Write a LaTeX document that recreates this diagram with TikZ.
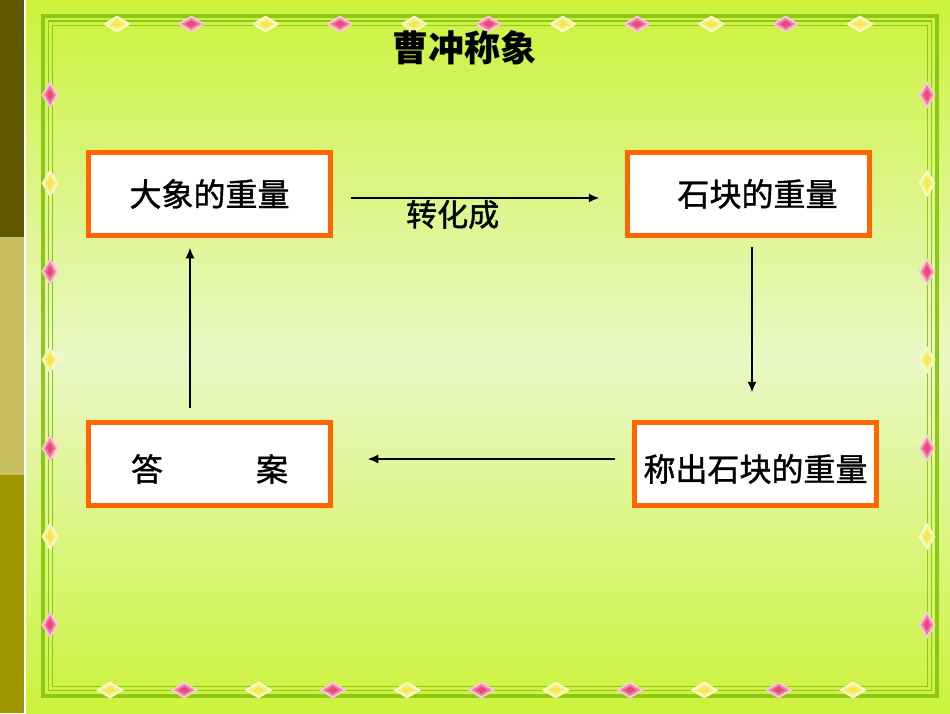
\documentclass[tikz,border=0pt]{standalone}
\usepackage{fontspec}
\newfontfamily\cjkfont[FakeBold=1.2]{Noto Sans CJK SC}
\newfontfamily\cjktitle{Noto Sans CJK SC}
\usepackage{xcolor}
\usetikzlibrary{arrows.meta, positioning}
\definecolor{boxorange}{HTML}{FF6600}
\definecolor{lime}{HTML}{CCF23C}
\definecolor{palelime}{HTML}{EAF8C6}
\definecolor{framegreen}{HTML}{8CC814}
\definecolor{stripdark}{HTML}{5E5800}
\definecolor{stripmid}{HTML}{C8C060}
\definecolor{stripolive}{HTML}{A09600}
\definecolor{gempink}{HTML}{E8487A}
\definecolor{gemyellow}{HTML}{F2EA50}
\tikzset{
  % Flowchart styles
  box/.style={rectangle, draw=boxorange, line width=4.5pt, fill=white, minimum width=242pt, minimum height=83pt, inner sep=0pt, text centered, font=\cjkfont\fontsize{32}{36}\selectfont},
  lbl/.style={inner sep=0pt, font=\cjkfont\fontsize{31}{36}\selectfont},
  heading/.style={inner sep=0pt, font=\cjktitle\bfseries\fontsize{36}{40}\selectfont},
  arrow/.style={-{Latex[length=11pt, width=9pt]}, line width=2.2pt},
  % Border styles
  frameline/.style={draw=framegreen},
}
% small diamonds on the border: x, y, colour
\newcommand{\gemH}[3]{%
  \fill[#3!30!white] (#1-14,#2) -- (#1,#2-8.5) -- (#1+14,#2) -- (#1,#2+8.5) -- cycle;
  \fill[#3!70!white] (#1-10,#2) -- (#1,#2-6) -- (#1+10,#2) -- (#1,#2+6) -- cycle;
  \fill[#3] (#1-6,#2) -- (#1,#2-3.5) -- (#1+6,#2) -- (#1,#2+3.5) -- cycle;}
\newcommand{\gemV}[3]{%
  \fill[#3!30!white] (#1-8.5,#2) -- (#1,#2-14) -- (#1+8.5,#2) -- (#1,#2+14) -- cycle;
  \fill[#3!70!white] (#1-6,#2) -- (#1,#2-10) -- (#1+6,#2) -- (#1,#2+10) -- cycle;
  \fill[#3] (#1-3.5,#2) -- (#1,#2-6) -- (#1+3.5,#2) -- (#1,#2+6) -- cycle;}

\begin{document}
\begin{tikzpicture}[x=1pt, y=-1pt]
    \useasboundingbox (0,0) rectangle (950,713);

    % Background
    \shade[top color=lime, bottom color=palelime] (26,0) rectangle (950,357);
    \shade[top color=palelime, bottom color=lime] (26,356) rectangle (950,713);
    \fill[stripdark] (0,0) rectangle (24,237);
    \fill[stripmid] (0,237) rectangle (24,475);
    \fill[stripolive] (0,475) rectangle (24,713);
    \fill[white] (24,0) rectangle (26,713);

    % Border
    \draw[frameline, line width=4pt] (43,16) rectangle (937,696);
    \draw[frameline, line width=1.5pt] (48.5,21) rectangle (931.5,690.5);
    \draw[frameline, line width=1pt] (52.5,25.5) rectangle (927,686);
    \foreach \i in {0,...,10} {
      \pgfmathsetmacro{\xt}{117+74.3*\i}
      \pgfmathsetmacro{\xb}{110+74.3*\i}
      \ifodd\i
        \gemH{\xt}{24}{gempink} \gemH{\xb}{690}{gempink}
      \else
        \gemH{\xt}{24}{gemyellow} \gemH{\xb}{690}{gemyellow}
      \fi
    }
    \foreach \i in {0,...,6} {
      \pgfmathsetmacro{\yl}{95+88.3*\i}
      \ifodd\i
        \gemV{50}{\yl}{gemyellow} \gemV{927}{\yl}{gemyellow}
      \else
        \gemV{50}{\yl}{gempink} \gemV{927}{\yl}{gempink}
      \fi
    }

    % Title
    \node[heading] (title) at (464,48) {曹冲称象};

    % Boxes
    \node[box] (elephant) at (209.5,194) {大象的重量\hspace{12pt}};
    \node[box] (stone) at (748.5,194) {\hspace{18pt}石块的重量};
    \node[box] (answer) at (209.5,464) {\raisebox{-5pt}[\height][\depth]{答\hspace{93pt}案}};
    \node[box] (weigh) at (755.5,464) {\raisebox{-5pt}[\height][\depth]{称出石块的重量}};

    % Arrows
    \draw[arrow, shorten <=18.5pt, shorten >=25.5pt] ([yshift=-4pt]elephant.east) -- ([yshift=-4pt]stone.west)
      node[lbl, pos=0.41, below=1pt] (convert) {转化成};
    \draw[arrow, shorten <=9.5pt, shorten >=27.5pt] ([xshift=3.5pt]stone.south) -- ([xshift=3.5pt]stone.south |- weigh.north);
    \draw[arrow, shorten <=17.5pt, shorten >=34.5pt] ([yshift=5pt]weigh.west) -- ([yshift=5pt]weigh.west -| answer.east);
    \draw[arrow, shorten <=12.5pt, shorten >=9.5pt] ([xshift=-19.5pt]answer.north) -- ([xshift=-19.5pt]answer.north |- elephant.south);
  \end{tikzpicture}
\end{document}
